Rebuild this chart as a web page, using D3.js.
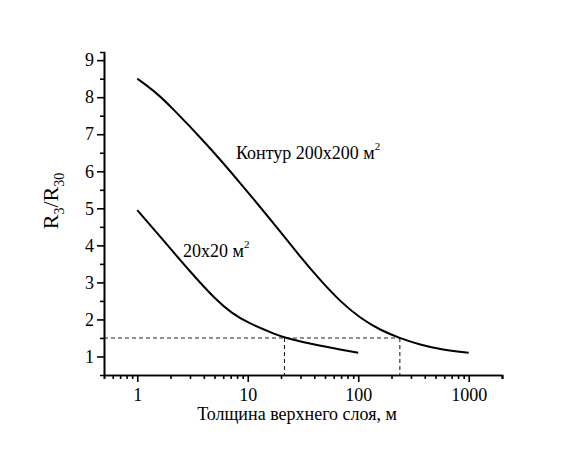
<!DOCTYPE html>
<html>
<head>
<meta charset="utf-8">
<script src="https://cdn.jsdelivr.net/npm/d3@7"></script>
<style>
body { margin: 0; background: #fff; }
svg text { font-family: "Liberation Serif", "Times New Roman", serif; fill: #000; }
.axis path, .axis line { stroke: #000; stroke-width: 1.6; }
.curve { fill: none; stroke: #000; stroke-width: 2; }
.guide { fill: none; stroke: #222; stroke-width: 1.1; stroke-dasharray: 4,3; }
</style>
</head>
<body>
<div id="chart"></div>
<script>
// contour 200x200 m2
const thick1 = [1, 1.41, 2, 4.27, 8.5, 20.9, 29.9, 45.3, 68.9, 104.7, 158.5, 236, 365.6, 554.6, 1000]
const ratio1 = [8.5, 8.18, 7.76, 6.73, 5.7, 4.28, 3.69, 3.06, 2.48, 2.03, 1.71, 1.5, 1.31, 1.19, 1.1]
// contour 20x20 m2
const thick2 = [1, 1.72, 3, 5.25, 7.18, 9.8, 18.4, 21.5, 42, 100]
const ratio2 = [4.95, 4.14, 3.29, 2.5, 2.17, 1.92, 1.58, 1.51, 1.3, 1.1]
// dashed guide: level and crossing thicknesses
const guideLevel = 1.5
const guideX = [21.5, 238]

const xMajor = [1, 10, 100, 1000]
const yMajor = [1, 2, 3, 4, 5, 6, 7, 8, 9]

const W = 581, H = 449
const margin = {left: 104, right: 79, top: 52, bottom: 74}
const width = W - margin.left - margin.right
const height = H - margin.top - margin.bottom

const svg = d3.select('#chart').append('svg')
    .attr('width', W)
    .attr('height', H)
const chart = svg.append('g')
    .attr('transform', `translate(${margin.left},${margin.top})`)

const xScale = d3.scaleLog().domain([0.5, 2000]).range([0, width])
const yScale = d3.scaleLinear().domain([0.5, 9.22]).range([height, 0])

// minor ticks
const xMinor = []
for (let d = 0.1; d <= 1000; d *= 10) {
    for (let k = 2; k <= 9; k++) {
        const v = +(d * k).toPrecision(3)
        if (v >= 0.5 && v <= 2000 && !xMajor.includes(v)) xMinor.push(v)
    }
}
xMinor.push(2000)
const yMinor = d3.range(1.5, 9.1, 1)

chart.append('g')
    .attr('class', 'axis')
    .attr('transform', `translate(0,${height})`)
    .call(d3.axisBottom(xScale).tickValues(xMinor).tickSize(4).tickFormat(''))
chart.append('g')
    .attr('class', 'axis')
    .attr('transform', `translate(0,${height})`)
    .call(d3.axisBottom(xScale).tickValues(xMajor).tickSize(7).tickSizeOuter(0).tickPadding(6).tickFormat(d3.format('d')))
    .selectAll('text').attr('font-size', 18).attr('font-family', '"Liberation Serif", serif')

chart.append('g')
    .attr('class', 'axis')
    .call(d3.axisLeft(yScale).tickValues(yMinor).tickSize(4).tickFormat(''))
chart.append('g')
    .attr('class', 'axis')
    .call(d3.axisLeft(yScale).tickValues(yMajor).tickSize(7).tickSizeOuter(0).tickPadding(3).tickFormat(d3.format('d')))
    .selectAll('text').attr('font-size', 18).attr('font-family', '"Liberation Serif", serif')

// dashed guides
chart.append('line')
    .attr('class', 'guide')
    .attr('x1', 0).attr('x2', xScale(guideX[1]))
    .attr('y1', yScale(guideLevel)).attr('y2', yScale(guideLevel))
chart.selectAll('.vguide')
    .data(guideX)
    .enter()
    .append('line')
    .attr('class', 'guide')
    .attr('x1', d => xScale(d)).attr('x2', d => xScale(d))
    .attr('y1', yScale(guideLevel)).attr('y2', height)

// curves
const line = d3.line()
    .x(d => xScale(d[0]))
    .y(d => yScale(d[1]))
    .curve(d3.curveBasis)

chart.append('path')
    .datum(d3.zip(thick1, ratio1))
    .attr('class', 'curve')
    .attr('d', line)
chart.append('path')
    .datum(d3.zip(thick2, ratio2))
    .attr('class', 'curve')
    .attr('d', line)

// curve labels
const lab1 = svg.append('text')
    .attr('x', 236).attr('y', 159)
    .attr('font-size', 18)
lab1.append('tspan').text('Контур 200x200 м')
lab1.append('tspan').attr('dy', -9).attr('font-size', 11).text('2')

const lab2 = svg.append('text')
    .attr('x', 183).attr('y', 257)
    .attr('font-size', 18)
lab2.append('tspan').text('20x20 м')
lab2.append('tspan').attr('dy', -9).attr('font-size', 11).text('2')

// x axis title
svg.append('text')
    .attr('x', margin.left + width / 2 - 6)
    .attr('y', 420)
    .attr('text-anchor', 'middle')
    .attr('font-size', 18)
    .text('Толщина верхнего слоя, м')

// y axis title
const yt = svg.append('text')
    .attr('transform', `translate(58,201) rotate(-90)`)
    .attr('text-anchor', 'middle')
    .attr('font-size', 22)
yt.append('tspan').text('R')
yt.append('tspan').attr('dy', 6).attr('font-size', 14).text('3')
yt.append('tspan').attr('dy', -6).text('/R')
yt.append('tspan').attr('dy', 6).attr('font-size', 14).text('30')
</script>
</body>
</html>
